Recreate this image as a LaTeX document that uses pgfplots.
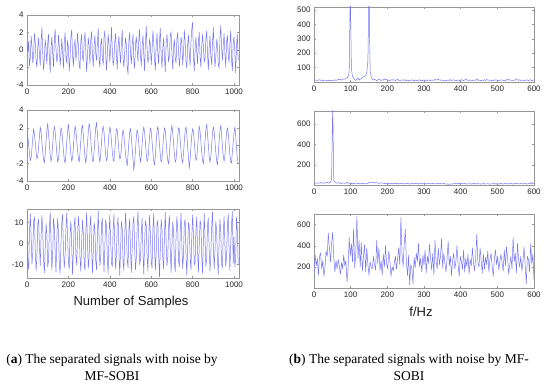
\documentclass[border=0pt]{standalone}
\usepackage{fontspec}
\setmainfont{Liberation Serif}
\newfontfamily\arialfont{Liberation Sans}
\usepackage{pgfplots}
\pgfplotsset{compat=1.18}
\definecolor{lineblue}{RGB}{120,120,240}
\definecolor{framegray}{RGB}{150,150,150}
\pgfplotsset{
  sig/.style={
    scale only axis, anchor=north west,
    axis line style={framegray, line width=0.4pt},
    tick style={framegray, line width=0.4pt},
    tick align=inside, major tick length=2pt,
    ticklabel style={font=\arialfont\fontsize{8}{9}\selectfont, text=black!85},
    /pgf/number format/assume math mode=true,
    /pgf/number format/1000 sep={},
    scaled ticks=false,
  },
  sl/.style={draw=lineblue, line width=0.5pt, mark=none, line join=round},
  tser/.style={sig, width=212pt, xmin=0, xmax=1024, xtick={0,200,...,1000}},
  spec/.style={sig, width=220pt, xmin=0, xmax=600, xtick={0,100,...,600}},
}
\begin{document}
\begin{tikzpicture}
\useasboundingbox (0pt,0pt) rectangle (550pt,387pt);
% ---------- left column ----------
\begin{axis}[tser, at={(27pt,372pt)}, height=70pt, ymin=-4, ymax=4, ytick={-4,-2,0,2,4}]
\addplot[sl] table[x expr=\coordindex*4, y index=0, header=false, row sep=\\] {
0.6\\ -0.2\\ 1.0\\ -1.8\\ -0.9\\ 1.6\\ 0.4\\ -1.5\\ -0.6\\ 1.9\\
0.8\\ -1.2\\ -2.0\\ 0.3\\ 1.4\\ -0.5\\ -1.7\\ 0.9\\ 2.6\\ -0.4\\
-2.3\\ -1.0\\ 1.2\\ 0.2\\ -1.6\\ 0.7\\ 1.8\\ -0.9\\ -2.6\\ 0.1\\
1.5\\ -0.3\\ -1.9\\ 1.0\\ 2.4\\ 0.2\\ -1.4\\ -0.8\\ 1.7\\ 0.5\\
-1.8\\ -0.6\\ 1.3\\ -0.2\\ -2.1\\ 0.8\\ 2.0\\ -0.7\\ -1.5\\ 1.1\\
0.3\\ -2.4\\ -0.9\\ 1.6\\ 2.3\\ -0.5\\ -1.9\\ 0.4\\ 1.2\\ -1.1\\
-0.4\\ 1.9\\ 0.6\\ -1.7\\ -2.2\\ 1.0\\ 1.8\\ -0.8\\ -1.3\\ 0.9\\
2.0\\ -0.1\\ -2.5\\ -0.7\\ 1.4\\ 0.5\\ -1.6\\ 1.2\\ 2.1\\ -0.6\\
-1.9\\ 0.3\\ 1.7\\ -0.4\\ -1.2\\ 0.8\\ 2.5\\ -1.0\\ -2.0\\ 0.6\\
1.3\\ -0.9\\ -1.7\\ 1.5\\ 2.2\\ -0.3\\ -2.3\\ -0.5\\ 1.8\\ 0.7\\
-1.4\\ 0.2\\ 2.6\\ 0.1\\ -1.8\\ -1.1\\ 1.0\\ 1.9\\ -0.6\\ -2.2\\
0.4\\ 1.6\\ -0.2\\ -1.5\\ 0.9\\ 2.3\\ -0.8\\ -2.0\\ -0.3\\ 1.4\\
0.6\\ -1.9\\ -2.8\\ 1.1\\ 2.0\\ -0.4\\ -1.6\\ 0.5\\ 1.8\\ -1.2\\
-2.1\\ 0.7\\ 1.5\\ 0.1\\ -1.3\\ 1.2\\ 2.4\\ -0.7\\ -1.8\\ 0.3\\
1.7\\ -0.5\\ -2.4\\ 0.8\\ 2.7\\ 0.2\\ -1.5\\ -0.9\\ 1.3\\ 0.6\\
-1.7\\ -0.2\\ 2.2\\ 1.0\\ -1.1\\ -2.3\\ 0.5\\ 1.9\\ -0.4\\ -1.6\\
1.1\\ 2.5\\ -0.6\\ -2.0\\ 0.2\\ 1.4\\ -0.8\\ -2.5\\ 0.7\\ 1.8\\
0.3\\ -1.4\\ -0.7\\ 1.6\\ 2.1\\ -0.5\\ -2.2\\ 0.4\\ 1.2\\ -1.0\\
-1.5\\ 1.3\\ 2.0\\ -0.2\\ -1.9\\ -0.6\\ 1.5\\ 0.8\\ -1.7\\ -0.3\\
2.3\\ 0.9\\ -1.3\\ -2.1\\ 0.6\\ 1.7\\ -0.4\\ -1.8\\ 0.9\\ 2.4\\
3.2\\ -0.8\\ -2.4\\ 0.1\\ 1.5\\ -0.3\\ -1.6\\ 1.0\\ 2.0\\ -0.7\\
-2.0\\ 0.5\\ 1.8\\ 0.4\\ -1.4\\ -0.9\\ 1.3\\ 2.2\\ -0.5\\ -2.3\\
0.2\\ 1.6\\ -0.6\\ -1.7\\ 0.8\\ 2.6\\ -0.2\\ -1.9\\ -0.8\\ 1.2\\
0.7\\ -1.6\\ -2.1\\ 1.4\\ 2.8\\ 0.3\\ -1.2\\ 0.6\\ 1.9\\ -0.4\\
-2.0\\ 0.9\\ 1.7\\ -0.5\\ -1.5\\ 0.6\\ 2.2\\ -1.1\\ -2.4\\ 0.8\\
1.5\\ -0.3\\ -2.6\\ 0.4\\ 1.8\\ -1.2\\
};
\end{axis}
\begin{axis}[tser, at={(27pt,277pt)}, height=71pt, ymin=-4, ymax=4, ytick={-4,-2,0,2,4}]
\addplot[sl] table[x expr=\coordindex*4, y index=0, header=false, row sep=\\] {
1.3\\ 1.0\\ 0.2\\ -0.9\\ -1.7\\ -1.4\\ -0.3\\ 0.9\\ 1.9\\ 1.2\\
0.3\\ -0.8\\ -1.5\\ -1.2\\ -0.2\\ 1.0\\ 2.1\\ 1.5\\ 0.4\\ -0.7\\
-1.6\\ -2.0\\ -0.9\\ 0.5\\ 1.7\\ 2.5\\ 1.3\\ 0.2\\ -1.1\\ -1.8\\
-1.3\\ 0.1\\ 1.4\\ 2.2\\ 1.6\\ 0.3\\ -0.9\\ -1.9\\ -1.5\\ -0.4\\
0.9\\ 2.0\\ 1.7\\ 0.6\\ -0.6\\ -1.6\\ -2.0\\ -1.0\\ 0.4\\ 1.6\\
2.4\\ 1.4\\ 0.1\\ -1.0\\ -1.8\\ -1.4\\ -0.2\\ 1.1\\ 2.2\\ 1.8\\
0.6\\ -0.5\\ -1.5\\ -1.9\\ -0.8\\ 0.6\\ 1.9\\ 2.3\\ 1.2\\ -0.1\\
-1.3\\ -2.0\\ -1.2\\ 0.2\\ 1.5\\ 2.5\\ 2.0\\ 0.7\\ -0.6\\ -1.7\\
-1.8\\ -0.7\\ 0.8\\ 2.0\\ 2.6\\ 1.3\\ 0.0\\ -1.2\\ -1.9\\ -1.0\\
0.4\\ 1.7\\ 2.2\\ 1.5\\ 0.2\\ -1.0\\ -1.7\\ -1.3\\ 0.0\\ 1.3\\
2.1\\ 1.6\\ 0.5\\ -0.7\\ -1.6\\ -1.8\\ -0.6\\ 0.8\\ 1.9\\ 1.7\\
0.6\\ -0.6\\ -1.5\\ -1.4\\ -0.3\\ 1.0\\ 1.8\\ 1.2\\ 0.1\\ -1.0\\
-1.8\\ -2.3\\ -1.0\\ 0.4\\ 1.5\\ 1.9\\ 0.9\\ -0.3\\ -1.5\\ -2.8\\
-1.9\\ -0.5\\ 0.9\\ 1.8\\ 1.3\\ 0.2\\ -1.1\\ -1.9\\ -1.2\\ 0.1\\
1.4\\ 2.1\\ 1.5\\ 0.3\\ -0.9\\ -1.8\\ -1.6\\ -0.4\\ 1.0\\ 2.0\\
1.6\\ 0.5\\ -0.7\\ -1.7\\ -2.2\\ -1.1\\ 0.3\\ 1.6\\ 2.2\\ 1.3\\
0.1\\ -1.1\\ -1.9\\ -1.5\\ -0.2\\ 1.1\\ 2.0\\ 1.7\\ 0.5\\ -0.8\\
-1.7\\ -2.1\\ -0.9\\ 0.5\\ 1.6\\ 2.3\\ 1.4\\ 0.2\\ -1.0\\ -1.9\\
-1.6\\ -0.3\\ 1.0\\ 2.0\\ 1.8\\ 0.6\\ -0.6\\ -1.6\\ -2.0\\ -0.9\\
0.5\\ 1.7\\ 2.1\\ 1.2\\ -0.1\\ -1.3\\ -2.6\\ -1.5\\ -0.1\\ 1.2\\
1.9\\ 1.5\\ 0.4\\ -0.8\\ -1.7\\ -1.4\\ -0.2\\ 1.0\\ 2.2\\ 1.6\\
0.4\\ -0.8\\ -1.7\\ -2.1\\ -0.9\\ 0.6\\ 1.8\\ 2.4\\ 1.3\\ 0.0\\
-1.2\\ -1.9\\ -1.3\\ 0.1\\ 1.4\\ 2.1\\ 1.6\\ 0.4\\ -0.8\\ -1.7\\
-2.2\\ -1.0\\ 0.5\\ 1.7\\ 2.3\\ 1.2\\ -0.1\\ -1.2\\ -1.8\\ -1.1\\
0.3\\ 1.5\\ 2.0\\ 1.4\\ 0.2\\ -1.0\\ -1.8\\ -2.0\\ -0.7\\ 0.3\\
1.4\\ 2.1\\ 1.2\\ -0.2\\ -1.5\\ -2.0\\
};
\end{axis}
\begin{axis}[tser, at={(27pt,178pt)}, height=69pt, ymin=-16.5, ymax=16.5, ytick={-10,0,10}]
\addplot[sl] table[x expr=\coordindex*4, y index=0, header=false, row sep=\\] {
2.1\\ -8.3\\ -12.4\\ 5.6\\ 14.2\\ 3.1\\ -9.8\\ -4.2\\ 10.5\\ 12.8\\
-3.5\\ -13.1\\ -6.0\\ 8.9\\ 11.7\\ -1.4\\ -10.6\\ 2.8\\ 13.5\\ 6.2\\
-7.7\\ -14.0\\ -2.3\\ 9.6\\ 4.1\\ -11.2\\ -8.5\\ 7.3\\ 15.1\\ 0.6\\
-12.7\\ -5.1\\ 11.9\\ 8.0\\ -4.6\\ -13.8\\ 1.9\\ 12.3\\ 5.4\\ -9.2\\
-14.6\\ -0.8\\ 10.2\\ 13.9\\ -2.7\\ -11.5\\ -6.3\\ 6.8\\ 14.5\\ 3.7\\
-8.9\\ -12.1\\ 4.5\\ 10.8\\ -1.1\\ -14.9\\ -3.8\\ 9.1\\ 12.6\\ -5.6\\
-10.3\\ 2.4\\ 13.2\\ 7.5\\ -6.8\\ -13.4\\ 0.3\\ 11.0\\ 4.9\\ -9.7\\
-12.9\\ 5.8\\ 14.8\\ 1.2\\ -11.8\\ -7.1\\ 8.6\\ 13.3\\ -2.0\\ -14.2\\
-4.4\\ 10.1\\ 6.7\\ -8.2\\ -12.6\\ 3.5\\ 15.6\\ 2.6\\ -10.9\\ -6.6\\
9.4\\ 12.0\\ -3.2\\ -13.6\\ -1.8\\ 11.4\\ 8.3\\ -7.4\\ -14.4\\ 4.2\\
13.7\\ 0.9\\ -9.5\\ -11.0\\ 6.1\\ 14.0\\ -0.5\\ -12.2\\ -5.3\\ 8.8\\
12.4\\ -4.0\\ -15.2\\ -2.9\\ 10.6\\ 7.0\\ -8.7\\ -13.0\\ 3.0\\ 14.7\\
5.2\\ -7.9\\ -11.6\\ 6.4\\ 11.8\\ -2.2\\ -13.9\\ -3.3\\ 9.8\\ 13.0\\
-1.6\\ -12.5\\ -6.9\\ 7.8\\ 15.3\\ 1.5\\ -10.1\\ -8.0\\ 5.0\\ 12.2\\
-3.9\\ -14.7\\ -0.2\\ 10.9\\ 8.5\\ -6.0\\ -13.3\\ 2.2\\ 13.6\\ 4.6\\
-9.0\\ -11.9\\ 6.6\\ 14.3\\ -1.0\\ -12.8\\ -4.7\\ 9.3\\ 11.1\\ -5.8\\
-15.8\\ -2.5\\ 11.6\\ 7.2\\ -7.6\\ -12.3\\ 4.0\\ 14.9\\ 0.4\\ -10.7\\
-6.4\\ 8.1\\ 13.4\\ -3.0\\ -14.1\\ -1.3\\ 10.4\\ 5.9\\ -9.3\\ -13.5\\
3.3\\ 12.9\\ 6.3\\ -8.6\\ -11.3\\ 5.5\\ 14.6\\ -0.7\\ -12.0\\ -4.9\\
9.7\\ 11.5\\ -5.2\\ -15.5\\ -1.9\\ 10.0\\ 7.7\\ -7.2\\ -12.7\\ 2.9\\
13.8\\ 3.9\\ -10.4\\ -8.8\\ 6.9\\ 12.7\\ -3.6\\ -13.7\\ -0.9\\ 11.3\\
8.7\\ -6.5\\ -14.3\\ 1.6\\ 14.4\\ 2.0\\ -11.1\\ -7.3\\ 9.0\\ 12.1\\
-2.6\\ -13.2\\ -5.5\\ 7.9\\ 15.0\\ -1.5\\ -12.4\\ -3.1\\ 10.7\\ 6.0\\
-8.1\\ -14.8\\ 0.7\\ 11.7\\ 5.3\\ -9.9\\ -11.7\\ 4.4\\ 13.1\\ -0.3\\
-10.8\\ -6.7\\ 8.4\\ 14.1\\ -2.4\\ -13.0\\ -1.2\\ 9.5\\ 15.4\\ -9.6\\
3.2\\ -11.4\\ -7.0\\ 12.5\\ 6.1\\ -9.8\\
};
\end{axis}
% ---------- right column ----------
\begin{axis}[spec, at={(314pt,380pt)}, height=75pt, ymin=0, ymax=520, ytick={100,200,...,500}]
\addplot[sl] table[x expr=\coordindex*3, y index=0, header=false, row sep=\\] {
15\\ 12\\ 14\\ 10\\ 13\\ 16\\ 11\\ 14\\ 9\\ 12\\
13\\ 10\\ 8\\ 12\\ 11\\ 9\\ 14\\ 10\\ 12\\ 15\\
11\\ 13\\ 18\\ 14\\ 20\\ 12\\ 16\\ 22\\ 19\\ 25\\
28\\ 35\\ 70\\ 650\\ 90\\ 40\\ 25\\ 15\\ 10\\ 18\\
28\\ 12\\ 20\\ 25\\ 30\\ 35\\ 40\\ 48\\ 65\\ 150\\
650\\ 80\\ 35\\ 20\\ 12\\ 18\\ 15\\ 10\\ 14\\ 20\\
13\\ 11\\ 16\\ 12\\ 22\\ 15\\ 18\\ 11\\ 14\\ 10\\
13\\ 17\\ 12\\ 15\\ 10\\ 14\\ 19\\ 12\\ 9\\ 13\\
15\\ 11\\ 16\\ 12\\ 10\\ 14\\ 9\\ 13\\ 11\\ 15\\
12\\ 8\\ 14\\ 10\\ 13\\ 11\\ 16\\ 9\\ 12\\ 10\\
14\\ 11\\ 13\\ 9\\ 15\\ 12\\ 10\\ 14\\ 11\\ 13\\
18\\ 12\\ 16\\ 20\\ 14\\ 11\\ 15\\ 12\\ 10\\ 13\\
9\\ 12\\ 14\\ 11\\ 16\\ 10\\ 13\\ 15\\ 12\\ 9\\
11\\ 14\\ 10\\ 13\\ 16\\ 12\\ 9\\ 14\\ 20\\ 12\\
13\\ 10\\ 15\\ 12\\ 9\\ 14\\ 11\\ 13\\ 22\\ 10\\
14\\ 12\\ 9\\ 13\\ 11\\ 15\\ 10\\ 18\\ 12\\ 14\\
11\\ 9\\ 13\\ 10\\ 16\\ 12\\ 14\\ 11\\ 9\\ 13\\
12\\ 15\\ 10\\ 13\\ 9\\ 14\\ 20\\ 12\\ 16\\ 11\\
13\\ 10\\ 14\\ 12\\ 22\\ 15\\ 11\\ 16\\ 10\\ 13\\
12\\ 9\\ 14\\ 11\\ 15\\ 10\\ 13\\ 16\\ 9\\ 12\\
14\\
};
\end{axis}
\begin{axis}[spec, at={(314pt,276pt)}, height=74pt, ymin=0, ymax=730, ytick={200,400,600}]
\addplot[sl] table[x expr=\coordindex*3, y index=0, header=false, row sep=\\] {
15\\ 18\\ 20\\ 17\\ 22\\ 19\\ 25\\ 18\\ 21\\ 16\\
23\\ 20\\ 26\\ 19\\ 24\\ 28\\ 60\\ 800\\ 45\\ 28\\
22\\ 18\\ 24\\ 16\\ 20\\ 14\\ 19\\ 22\\ 15\\ 18\\
26\\ 20\\ 16\\ 22\\ 14\\ 18\\ 12\\ 15\\ 20\\ 17\\
13\\ 16\\ 11\\ 15\\ 12\\ 18\\ 14\\ 10\\ 13\\ 16\\
28\\ 24\\ 22\\ 26\\ 20\\ 25\\ 18\\ 23\\ 21\\ 15\\
19\\ 22\\ 17\\ 20\\ 14\\ 18\\ 16\\ 12\\ 15\\ 19\\
13\\ 16\\ 11\\ 14\\ 18\\ 12\\ 15\\ 10\\ 13\\ 17\\
12\\ 15\\ 10\\ 14\\ 11\\ 16\\ 13\\ 9\\ 12\\ 15\\
11\\ 14\\ 17\\ 12\\ 15\\ 10\\ 13\\ 16\\ 11\\ 14\\
12\\ 15\\ 10\\ 13\\ 18\\ 11\\ 14\\ 12\\ 16\\ 10\\
13\\ 11\\ 15\\ 12\\ 17\\ 14\\ 10\\ 13\\ 16\\ 12\\
8\\ 11\\ 6\\ 10\\ 7\\ 12\\ 9\\ 14\\ 11\\ 20\\
15\\ 12\\ 17\\ 10\\ 22\\ 14\\ 11\\ 16\\ 13\\ 9\\
12\\ 10\\ 15\\ 8\\ 13\\ 11\\ 16\\ 9\\ 12\\ 14\\
10\\ 13\\ 8\\ 11\\ 15\\ 9\\ 12\\ 10\\ 14\\ 11\\
8\\ 12\\ 10\\ 15\\ 9\\ 13\\ 11\\ 7\\ 12\\ 10\\
16\\ 11\\ 9\\ 13\\ 18\\ 12\\ 10\\ 14\\ 11\\ 15\\
12\\ 9\\ 14\\ 11\\ 17\\ 13\\ 10\\ 12\\ 15\\ 11\\
13\\ 10\\ 18\\ 12\\ 9\\ 14\\ 16\\ 11\\ 25\\ 13\\
20\\
};
\end{axis}
\begin{axis}[spec, at={(314pt,173pt)}, height=74pt, ymin=0, ymax=700, ytick={200,400,600}]
\addplot[sl] table[x expr=\coordindex*3, y index=0, header=false, row sep=\\] {
150\\ 320\\ 210\\ 280\\ 120\\ 300\\ 330\\ 180\\ 260\\ 110\\
200\\ 350\\ 300\\ 520\\ 380\\ 250\\ 420\\ 530\\ 280\\ 150\\
260\\ 180\\ 270\\ 210\\ 130\\ 240\\ 180\\ 310\\ 210\\ 260\\
60\\ 180\\ 480\\ 300\\ 420\\ 250\\ 560\\ 190\\ 330\\ 680\\
280\\ 450\\ 200\\ 430\\ 160\\ 300\\ 410\\ 150\\ 380\\ 220\\
120\\ 250\\ 200\\ 180\\ 300\\ 220\\ 170\\ 450\\ 230\\ 380\\
170\\ 260\\ 120\\ 320\\ 200\\ 400\\ 230\\ 180\\ 350\\ 260\\
110\\ 200\\ 160\\ 240\\ 300\\ 180\\ 280\\ 380\\ 220\\ 670\\
330\\ 200\\ 410\\ 560\\ 240\\ 120\\ 310\\ 30\\ 220\\ 180\\
40\\ 290\\ 190\\ 330\\ 250\\ 420\\ 200\\ 280\\ 150\\ 310\\
220\\ 360\\ 140\\ 300\\ 230\\ 410\\ 280\\ 170\\ 330\\ 120\\
450\\ 260\\ 180\\ 380\\ 220\\ 300\\ 470\\ 190\\ 330\\ 240\\
150\\ 280\\ 440\\ 210\\ 300\\ 120\\ 260\\ 330\\ 180\\ 250\\
400\\ 220\\ 110\\ 300\\ 250\\ 180\\ 360\\ 150\\ 280\\ 200\\
320\\ 130\\ 270\\ 210\\ 380\\ 240\\ 160\\ 300\\ 510\\ 230\\
200\\ 380\\ 260\\ 140\\ 320\\ 180\\ 290\\ 220\\ 350\\ 150\\
270\\ 330\\ 200\\ 110\\ 280\\ 360\\ 220\\ 300\\ 170\\ 250\\
320\\ 240\\ 160\\ 360\\ 210\\ 390\\ 280\\ 130\\ 220\\ 300\\
180\\ 480\\ 250\\ 330\\ 140\\ 420\\ 270\\ 200\\ 300\\ 160\\
250\\ 390\\ 210\\ 40\\ 300\\ 270\\ 150\\ 420\\ 230\\ 320\\
80\\
};
\end{axis}
% ---------- labels and captions ----------
\node[font=\arialfont\fontsize{13}{15}\selectfont, text=black!90] at (131pt,85pt) {Number of Samples};
\node[font=\arialfont\fontsize{13}{15}\selectfont, text=black!90] at (421pt,75pt) {f/Hz};
\node[font=\fontsize{13.5}{17}\selectfont, align=center] at (112pt,20pt) {(\textbf{a}) The separated signals with noise by\\MF-SOBI};
\node[font=\fontsize{13.5}{17}\selectfont, align=center] at (409pt,20pt) {(\textbf{b}) The separated signals with noise by MF-\\SOBI};
\end{tikzpicture}
\end{document}
